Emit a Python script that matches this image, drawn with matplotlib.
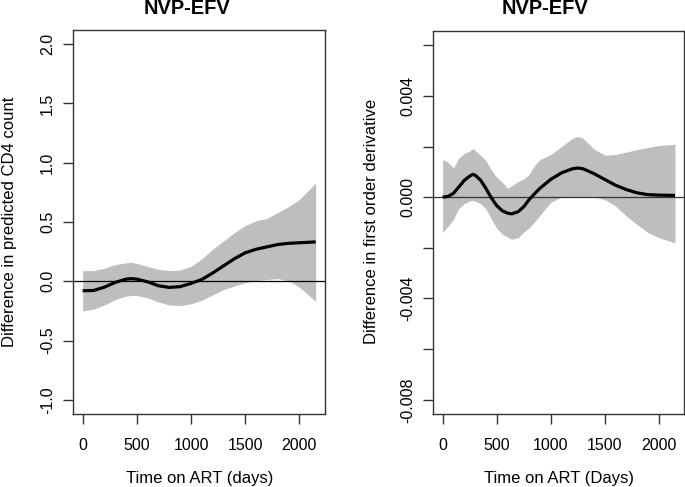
import matplotlib
matplotlib.use("Agg")
import matplotlib.pyplot as plt
import numpy as np

plt.rcParams['font.family'] = ['Liberation Sans', 'DejaVu Sans']

# Left panel: difference in predicted CD4 count
days_l = [0, 100, 200, 300, 400, 450, 500, 600, 700, 800, 900, 1000, 1100,
          1200, 1300, 1400, 1500, 1600, 1700, 1800, 1900, 2000, 2150]
mean_l = [-0.08, -0.078, -0.05, -0.01, 0.018, 0.022, 0.018, -0.005, -0.038,
          -0.052, -0.045, -0.018, 0.015, 0.07, 0.13, 0.19, 0.24, 0.27, 0.29,
          0.31, 0.32, 0.325, 0.332]
upper_l = [0.09, 0.09, 0.11, 0.14, 0.155, 0.16, 0.15, 0.125, 0.10, 0.09, 0.095,
           0.125, 0.19, 0.27, 0.34, 0.41, 0.47, 0.51, 0.53, 0.58, 0.63, 0.69, 0.83]
lower_l = [-0.25, -0.235, -0.2, -0.155, -0.125, -0.12, -0.12, -0.14, -0.175,
           -0.2, -0.205, -0.19, -0.16, -0.115, -0.07, -0.04, -0.012, 0.005,
           0.015, 0.022, 0.005, -0.05, -0.17]

# Right panel: difference in first order derivative
days_r = [0, 50, 100, 150, 200, 250, 280, 300, 350, 400, 450, 500, 550, 600,
          640, 700, 750, 800, 850, 900, 1000, 1100, 1200, 1250, 1300, 1400,
          1500, 1600, 1700, 1800, 1900, 2000, 2150]
mean_r = [0, 0.00003, 0.00015, 0.0004, 0.00066, 0.00083, 0.0009, 0.00087,
          0.00068, 0.00035, -0.00002, -0.00033, -0.00053, -0.00063, -0.00066,
          -0.00057, -0.00038, -0.0001, 0.00013, 0.00035, 0.0007, 0.00096,
          0.00112, 0.00115, 0.00112, 0.00093, 0.0007, 0.00047, 0.0003, 0.00017,
          0.0001, 0.00008, 0.00007]
upper_r = [0.00148, 0.00138, 0.00115, 0.00155, 0.00172, 0.00182, 0.00192,
           0.00185, 0.00165, 0.00145, 0.00108, 0.00078, 0.0006, 0.00035,
           0.00045, 0.00062, 0.00072, 0.0009, 0.00125, 0.00148, 0.00168, 0.002,
           0.00232, 0.0024, 0.00232, 0.0019, 0.00166, 0.00168, 0.00178,
           0.00188, 0.00196, 0.00204, 0.00209]
lower_r = [-0.00139, -0.00115, -0.00088, -0.00045, -0.00025, -0.00015,
           -0.00013, -0.00015, -0.00025, -0.00046, -0.00085, -0.00122,
           -0.00145, -0.00158, -0.00166, -0.0016, -0.00138, -0.00122, -0.00098,
           -0.00072, -0.0002, 0.0, 0.00002, 0.00002, 0.00001, 0.0, -0.0001,
           -0.00035, -0.00075, -0.00108, -0.0014, -0.0016, -0.0018]

xticks = [0, 500, 1000, 1500, 2000]
yticks_l = [-1.0, -0.5, 0.0, 0.5, 1.0, 1.5, 2.0]
yticks_r = [-0.008, -0.006, -0.004, -0.002, 0.0, 0.002, 0.004, 0.006]
ylabels_r = ['-0.008', '', '-0.004', '', '0.000', '', '0.004', '']

W, H = 685, 487
fig = plt.figure(figsize=(W / 100, H / 100), dpi=100)


def px_axes(x0, y0, x1, y1):
    return fig.add_axes([x0 / W, 1 - y1 / H, (x1 - x0) / W, (y1 - y0) / H])


def style(ax):
    for s in ax.spines.values():
        s.set_color('#333333')
        s.set_linewidth(1.0)
    ax.tick_params(axis='both', length=7, width=1.0, color='#333333',
                   labelsize=11.5, labelcolor='black')
    ax.tick_params(axis='x', pad=10)
    ax.tick_params(axis='y', pad=6)
    for lab in ax.get_yticklabels():
        lab.set_rotation(90)
        lab.set_va('center')


ax1 = px_axes(73.3, 30, 325, 414)
ax1.fill_between(days_l, lower_l, upper_l, color='#BEBEBE', lw=0)
ax1.axhline(0, color='black', lw=0.9)
ax1.plot(days_l, mean_l, color='black', lw=2.3, solid_capstyle='butt')
ax1.set_xlim(-86, 2236)
ax1.set_ylim(-1.12, 2.12)
ax1.set_xticks(xticks)
ax1.set_yticks(yticks_l)
ax1.set_yticklabels(['%.1f' % v for v in yticks_l])
style(ax1)

ax2 = px_axes(433.3, 31, 684.3, 414)
ax2.fill_between(days_r, lower_r, upper_r, color='#BEBEBE', lw=0)
ax2.axhline(0, color='#333333', lw=0.9)
ax2.plot(days_r, mean_r, color='black', lw=2.3, solid_capstyle='butt')
ax2.set_xlim(-86, 2236)
ax2.set_ylim(-0.00856, 0.00656)
ax2.set_xticks(xticks)
ax2.set_yticks(yticks_r)
ax2.set_yticklabels(ylabels_r)
style(ax2)

# titles and axis labels, placed in pixel coordinates
def ftext(x, y, s, **kw):
    fig.text(x / W, 1 - y / H, s, **kw)

ftext(187, 14, 'NVP-EFV', ha='center', va='baseline', fontsize=14.4,
      fontweight='bold')
ftext(545, 14, 'NVP-EFV', ha='center', va='baseline', fontsize=14.4,
      fontweight='bold')
ftext(200, 478, 'Time on ART (days)', ha='center', va='center', fontsize=12)
ftext(559, 478, 'Time on ART (Days)', ha='center', va='center', fontsize=12)
ftext(9.5, 222, 'Difference in predicted CD4 count', ha='center', va='center',
      rotation=90, fontsize=12)
ftext(371, 221, 'Difference in first order derivative', ha='center',
      va='center', rotation=90, fontsize=12)

fig.savefig('out.png', dpi=100)
